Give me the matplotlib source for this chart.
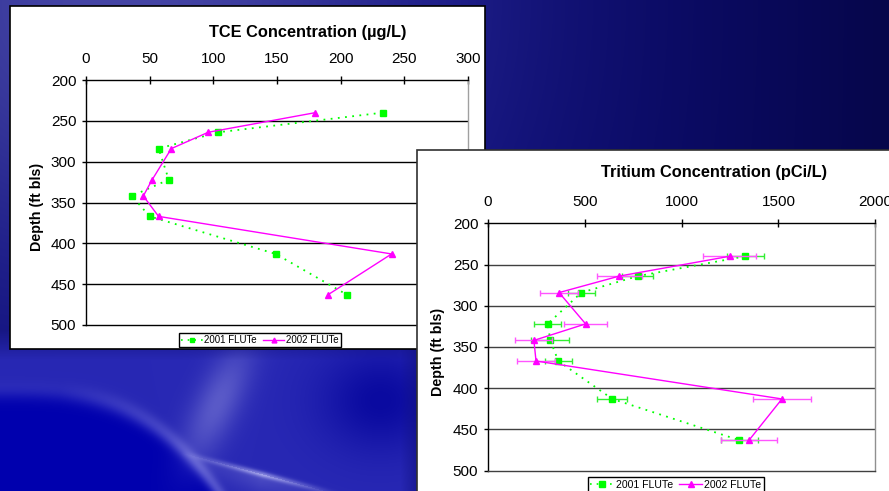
import numpy as np
import matplotlib.pyplot as plt
from matplotlib.patches import Rectangle
from matplotlib.lines import Line2D

plt.rcParams['font.family'] = ['Liberation Sans', 'DejaVu Sans']

# depths of the sampling ports (ft bls)
depth = [240, 264, 284, 322, 342, 367, 413, 463]

# TCE concentration (ug/L)
tce_2001 = [233, 104, 57, 65, 36, 50, 149, 205]
tce_2002 = [180, 96, 67, 52, 45, 57, 240, 190]

# Tritium concentration (pCi/L) with error
tri_2001 = [1329, 774, 482, 308, 322, 363, 642, 1298]
tri_2002 = [1248, 678, 367, 504, 237, 248, 1518, 1348]
tri_2001_err = [96, 80, 70, 68, 98, 71, 77, 95]
tri_2002_err = [137, 117, 100, 110, 96, 97, 148, 143]

series_names = ['2001 FLUTe', '2002 FLUTe']
GREEN = '#00ff00'
PINK = '#ff00ff'

W, H = 889, 491


def px(x, y):
    '''pixel position (top-left origin) to figure fraction'''
    return x / W, 1 - y / H


def gauss(xx, yy, cx, cy, sx, sy):
    return np.exp(-(((xx - cx) / sx) ** 2 + ((yy - cy) / sy) ** 2))


def line_coords(xx, yy, x0, y0, x1, y1):
    '''position along and across the segment (x0,y0)-(x1,y1)'''
    ux, uy = x1 - x0, y1 - y0
    L = np.hypot(ux, uy)
    along = ((xx - x0) * ux + (yy - y0) * uy) / L
    perp = ((xx - x0) * uy - (yy - y0) * ux) / L
    return along, perp, L


def make_background():
    '''blue slide background with soft light streaks'''
    yy, xx = np.mgrid[0:H, 0:W].astype(float)
    t = np.clip((xx - 450) / (W - 450), 0, 1)
    r = 14 - 8 * t
    g = 14 - 8 * t
    b = 125 - 50 * t
    # purple haze in the top-left
    glow = gauss(xx, yy, 120, 0, 300, 260)
    r += 55 * glow
    g += 55 * glow
    b += 40 * glow
    # lower-left: bright saturated blue under a curved edge
    low = np.clip((yy - 330) / 30, 0, 1) * np.clip((430 - xx) / 30, 0, 1)
    r += low * (40 - r)
    g += low * (40 - g)
    b += low * (180 - b)
    yb = 390 + 9.77e-6 * np.clip(xx, 0, 230) ** 3
    dist = yy - yb
    blob = 1 / (1 + np.exp(-dist / 5)) * (xx < 230) * low
    r -= 40 * blob
    g -= 40 * blob
    b -= 6 * blob
    band = np.exp(-(dist / 10) ** 2) * np.clip(xx / 200, 0.3, 1) * (xx < 230) * low
    r += 55 * band
    g += 55 * band
    b += 25 * band
    # elongated light band where the two curves meet
    along, perp, L = line_coords(xx, yy, 245, 345, 190, 460)
    haze = np.exp(-((along - L / 2) / (L / 2)) ** 2) * np.exp(-(perp / 22) ** 2) * low
    r += 50 * haze
    g += 50 * haze
    b += 20 * haze
    dark = gauss(xx, yy, 380, 400, 60, 50) * low
    r -= 30 * dark
    g -= 30 * dark
    b -= 20 * dark
    # thin streak going down to the right
    along, perp, L = line_coords(xx, yy, 180, 452, 345, 496)
    fade = np.clip(1 - np.abs(along - L / 2) / (L / 2), 0, 1)
    streak = np.exp(-(perp / 3) ** 2) * fade
    below = np.exp(-(np.clip(-perp, 0, None) / 18) ** 2) * (perp < 0) * fade
    r += 90 * streak + 35 * below
    g += 90 * streak + 35 * below
    b += 40 * streak + 15 * below
    img = np.dstack([r, g, b]) / 255.0
    return np.clip(img, 0, 1)


def style_axes(ax, xmax, xstep, grid_color, right_color):
    ax.set_ylim(500, 200)
    ax.set_xlim(0, xmax)
    ax.set_xticks(np.arange(0, xmax + 1, xstep))
    ax.set_yticks(np.arange(200, 501, 50))
    ax.xaxis.tick_top()
    ax.tick_params(axis='x', direction='inout', length=6, width=1, pad=7, labelsize=11)
    ax.tick_params(axis='y', direction='out', length=3, width=1, pad=4, labelsize=11)
    for y in range(250, 451, 50):
        ax.axhline(y, color=grid_color, lw=1, zorder=1)
    ax.spines['left'].set_color('black')
    ax.spines['top'].set_color('black')
    ax.spines['bottom'].set_color(grid_color)
    ax.spines['right'].set_color(right_color)
    for s in ax.spines.values():
        s.set_linewidth(1)
    ax.set_facecolor('white')


def legend_handles(ms):
    h1 = Line2D([], [], color=GREEN, ls=(0, (1, 3)), lw=1.2, marker='s', ms=ms, mec=GREEN)
    h2 = Line2D([], [], color=PINK, ls='-', lw=1, marker='^', ms=ms, mec=PINK)
    return [h1, h2]


fig = plt.figure(figsize=(W / 100, H / 100), dpi=100)

bg = fig.add_axes([0, 0, 1, 1], zorder=-3)
bg.imshow(make_background(), aspect='auto', interpolation='bilinear')
bg.axis('off')

# white panels behind each chart
x0, y0 = px(10, 349)
fig.add_artist(Rectangle((x0, y0), 475 / W, 343 / H, transform=fig.transFigure,
                         facecolor='white', edgecolor='black', lw=1.2, zorder=-2))
x0, y0 = px(417, 496)
fig.add_artist(Rectangle((x0, y0), 480 / W, 346 / H, transform=fig.transFigure,
                         facecolor='white', edgecolor='#303030', lw=1.2, zorder=1))

# ---- TCE chart ----
l, b = px(86, 325)
ax1 = fig.add_axes([l, b, 382 / W, 245 / H], zorder=0)
style_axes(ax1, 300, 50, 'black', '#a0a0a0')
ax1.plot(tce_2001, depth, color=GREEN, ls=(0, (1, 3)), lw=1.3, marker='s', ms=3.8,
         mec=GREEN, zorder=3)
ax1.plot(tce_2002, depth, color=PINK, ls='-', lw=1, marker='^', ms=4, mec=PINK, zorder=4)
fig.text(*px(308, 32), 'TCE Concentration (µg/L)', ha='center', va='center',
         fontsize=11.8, fontweight='bold')
fig.text(*px(37, 207), 'Depth (ft bls)', ha='center', va='center', rotation=90,
         fontsize=10.3, fontweight='bold')
fig.legend(legend_handles(3.5), series_names, loc='center', bbox_to_anchor=px(260, 340),
           ncol=2, fontsize=7, frameon=True, fancybox=False, edgecolor='black',
           framealpha=1, borderpad=0.25, handlelength=2.2, handletextpad=0.2,
           columnspacing=0.6)

# ---- Tritium chart ----
l, b = px(488, 470.7)
ax2 = fig.add_axes([l, b, 387.3 / W, 247.4 / H], zorder=2)
style_axes(ax2, 2000, 500, '#404040', '#909090')
ax2.errorbar(tri_2001, depth, xerr=tri_2001_err, color=GREEN, ls=(0, (1, 3)), lw=1.3,
             marker='s', ms=4, mec=GREEN, ecolor='#33ee33', elinewidth=1, capsize=2,
             zorder=3)
ax2.errorbar(tri_2002, depth, xerr=tri_2002_err, color=PINK, ls='-', lw=1, marker='^',
             ms=4, mec=PINK, ecolor='#ff55ff', elinewidth=1, capsize=2, zorder=4)
fig.text(*px(714, 173), 'Tritium Concentration (pCi/L)', ha='center', va='center',
         fontsize=11.8, fontweight='bold')
fig.text(*px(438, 352), 'Depth (ft bls)', ha='center', va='center', rotation=90,
         fontsize=10.3, fontweight='bold', zorder=3)
leg2 = fig.legend(legend_handles(4), series_names, loc='center', bbox_to_anchor=px(676, 485),
                  ncol=2, fontsize=7.6, frameon=True, fancybox=False, edgecolor='black',
                  framealpha=1, borderpad=0.25, handlelength=2.2, handletextpad=0.2,
                  columnspacing=0.6)
leg2.set_zorder(5)

fig.savefig('out.png', dpi=100)
